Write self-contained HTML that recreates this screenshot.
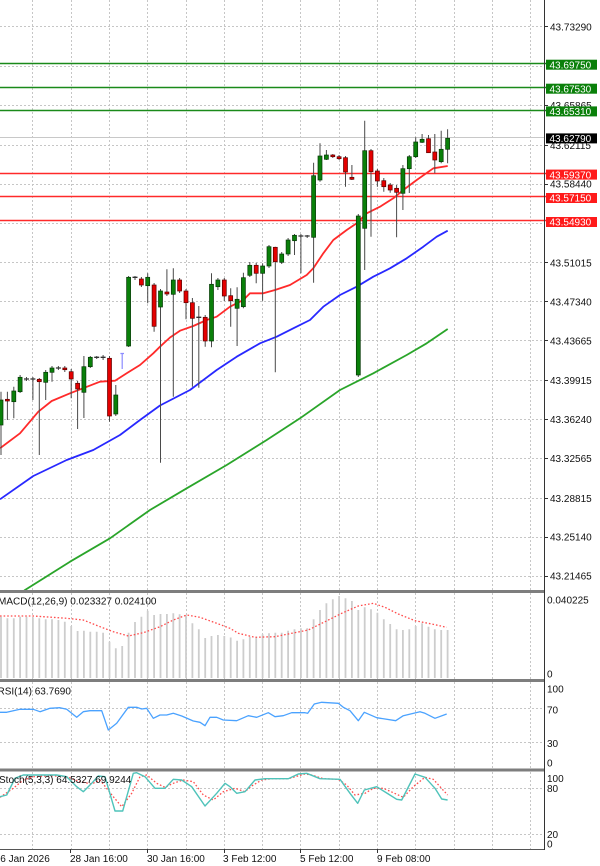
<!DOCTYPE html>
<html><head><meta charset="utf-8"><style>
html,body{margin:0;padding:0;background:#fff;overflow:hidden;width:600px;height:866px}
svg{display:block}
text{font-family:"Liberation Sans",sans-serif;font-size:10px}
</style></head><body>
<svg width="600" height="866" viewBox="0 0 600 866" xmlns="http://www.w3.org/2000/svg">
<rect width="600" height="866" fill="#fff"/>
<!-- grid -->
<g stroke="#c6c6c6" stroke-width="1" stroke-dasharray="2 2" fill="none">
<path d="M0 26.5H544M0 66.5H544M0 105.5H544M0 145.5H544M0 184.5H544M0 223.5H544M0 262.5H544M0 301.5H544M0 340.5H544M0 380.5H544M0 419.5H544M0 458.5H544M0 498.5H544M0 537.5H544M0 576.5H544"/>
<path d="M32.5 0V590M71.5 0V590M109.5 0V590M147.5 0V590M186.5 0V590M224.5 0V590M262.5 0V590M300.5 0V590M339.5 0V590M377.5 0V590M415.5 0V590M454.5 0V590M492.5 0V590M530.5 0V590"/>
<path d="M32.5 593V679M71.5 593V679M109.5 593V679M147.5 593V679M186.5 593V679M224.5 593V679M262.5 593V679M300.5 593V679M339.5 593V679M377.5 593V679M415.5 593V679M454.5 593V679M492.5 593V679M530.5 593V679"/>
<path d="M32.5 682V769M71.5 682V769M109.5 682V769M147.5 682V769M186.5 682V769M224.5 682V769M262.5 682V769M300.5 682V769M339.5 682V769M377.5 682V769M415.5 682V769M454.5 682V769M492.5 682V769M530.5 682V769"/>
<path d="M32.5 772V849M71.5 772V849M109.5 772V849M147.5 772V849M186.5 772V849M224.5 772V849M262.5 772V849M300.5 772V849M339.5 772V849M377.5 772V849M415.5 772V849M454.5 772V849M492.5 772V849M530.5 772V849"/>
<path d="M0 708.5H544M0 742.5H544M0 788.5H544M0 834.5H544"/>
</g>
<!-- bid line -->
<path d="M0 137.5H544" stroke="#c8c8c8" stroke-width="1"/>
<!-- S/R lines -->
<g fill="none">
<path d="M0 63.5H546M0 87.5H546M0 110.5H546" stroke="#1a8a1a" stroke-width="1.4"/>
<path d="M0 173.5H546M0 196.5H546M0 220.5H546" stroke="#ff2a2a" stroke-width="1.6"/>
</g>
<!-- moving averages -->
<defs><clipPath id="mc"><rect x="0" y="0" width="544" height="590"/></clipPath></defs>
<g clip-path="url(#mc)" fill="none" stroke-width="1.8" stroke-linejoin="round">
<polyline stroke="#2aa52a" points="20,594 25,590 70,561.7 110,538.3 150,510 186.7,488.3 226.7,465 266.7,440 300,418.3 340,390 373.3,373.3 406.7,355 426.7,343.3 447.7,329"/>
<polyline stroke="#2828ff" points="0,499.3 33.3,476 66.7,460 93.3,450 120,435 140,420 160,405.5 190,390 216.7,370 236.7,356.7 260,343.3 276.7,336.7 293.3,328.3 310,320 323.3,306.7 340,295 356.7,286.7 373.3,276.7 390,268.3 406.7,258.3 423.3,246.7 436.7,236.7 447.7,230.7"/>
<polyline stroke="#ff2a2a" points="0,448.3 20,433.3 38.3,411.7 51.7,401 70,393.3 100,381.7 115,380.7 126.7,373.3 140,365 153.3,353.3 160,346.7 170,337.5 180,330.7 193.3,326 206.7,320 216.7,316.7 230,306.7 243.3,300 250,293.3 263.3,293.3 275,290 290,285 306.7,275 313.3,268.3 323.3,253.3 333.3,240 346.7,230 356.7,223.3 366.7,213.3 380,206.7 393.3,198.3 403.3,190 416.7,180 433.3,168.3 447.7,166"/>
</g>
<!-- wicks -->
<path fill="none" stroke="#4a4a4a" stroke-width="1" d="M1 391.7V455M7.4 391.7V420M13.8 386.7V418.3M20.1 375V393M26.5 377V381M32.9 377V400M39.3 378V455M45.7 370V400M52 366V381.7M58.4 366V370M64.8 366V372M71.2 369V398.3M77.6 381V429M83.9 356V418M90.3 356V368M96.7 356V359M103.1 355V360M109.5 356V421.7M115.8 385V416M128.6 276V347M135 276V280M141.4 277V287M147.7 273.3V303.3M154.1 283V331.7M160.5 289V462.7M166.9 269.3V296M173.3 268.3V396.7M179.6 278V293M186 289V319.3M192.4 298V386.7M198.8 306V387.7M205.2 315V346.7M211.5 273.3V347.3M217.9 278V290M224.3 278V301M230.7 288.3V326.7M237.1 287.3V346M243.4 272.7V308.3M249.8 262V277M256.2 262.7V283.3M262.6 263.3V300.7M269 245V268M275.3 246.7V372.3M281.7 252V264M288.1 238V256M294.5 234V255M300.9 234V273.3M307.2 235V238M313.6 162.7V282.7M320 143.3V181.7M326.4 150V160M332.8 154V158M339.1 155V160M345.5 156V186.7M351.9 165V180M358.3 214V377M364.7 120.7V270M371 149V236.7M377.4 169V186.7M383.8 178V191.7M390.2 183V192.7M396.6 185V237.3M402.9 165V210M409.3 155V193M415.7 137.3V158M422.1 134V143M428.5 135V153M434.8 134V173.3M441.2 130.7V163.3M447.6 129.3V163.3"/>
<!-- dojis -->
<path fill="none" stroke="#333" stroke-width="1.3" d="M24 379H29M30.4 379H35.4M55.9 368H60.9M94.2 357.3H99.2M100.6 357.3H105.6M132.5 277.3H137.5M196.3 317.3H201.3M298.4 236H303.4M304.7 236H309.7"/>
<!-- marker -->
<path fill="none" stroke="#8c8cff" stroke-width="1.2" d="M120.4 353.5H124M122.2 353.5V369"/>
<!-- green bodies -->
<g fill="#0a800a" stroke="#053805" stroke-width="0.7">
<rect x="-1" y="400" width="4" height="25"/>
<rect x="11.8" y="391" width="4" height="10.7"/>
<rect x="18.1" y="377.3" width="4" height="14.4"/>
<rect x="43.7" y="372.3" width="4" height="10"/>
<rect x="50" y="368" width="4" height="4.3"/>
<rect x="81.9" y="366.7" width="4" height="25.6"/>
<rect x="88.3" y="357.3" width="4" height="9.4"/>
<rect x="113.8" y="395" width="4" height="19"/>
<rect x="126.6" y="277.3" width="4" height="68.7"/>
<rect x="145.7" y="277.3" width="4" height="8.4"/>
<rect x="158.5" y="291" width="4" height="16"/>
<rect x="171.3" y="280" width="4" height="14.3"/>
<rect x="209.5" y="284.3" width="4" height="56.7"/>
<rect x="215.9" y="280" width="4" height="6.7"/>
<rect x="235.1" y="299.3" width="4" height="9"/>
<rect x="241.4" y="277.7" width="4" height="29"/>
<rect x="247.8" y="265.3" width="4" height="10"/>
<rect x="260.6" y="266" width="4" height="7.3"/>
<rect x="267" y="246.7" width="4" height="19.3"/>
<rect x="279.7" y="254" width="4" height="8.3"/>
<rect x="286.1" y="240" width="4" height="14"/>
<rect x="292.5" y="235.3" width="4" height="5.4"/>
<rect x="311.6" y="175.7" width="4" height="61.6"/>
<rect x="318" y="156" width="4" height="24"/>
<rect x="324.4" y="155" width="4" height="4.3"/>
<rect x="356.3" y="216" width="4" height="159"/>
<rect x="362.7" y="150.7" width="4" height="77.6"/>
<rect x="400.9" y="168.7" width="4" height="24.6"/>
<rect x="407.3" y="156.7" width="4" height="12"/>
<rect x="413.7" y="142" width="4" height="14.7"/>
<rect x="420.1" y="139.3" width="4" height="3"/>
<rect x="439.2" y="149.3" width="4" height="12.4"/>
<rect x="445.6" y="138.3" width="4" height="11"/>
</g>
<!-- red bodies -->
<g fill="#e40000" stroke="#5a0000" stroke-width="0.7">
<rect x="5.4" y="399.3" width="4" height="1.7"/>
<rect x="37.3" y="379.3" width="4" height="2.4"/>
<rect x="62.8" y="368" width="4" height="1.7"/>
<rect x="69.2" y="371.7" width="4" height="7.3"/>
<rect x="75.6" y="383.3" width="4" height="5.7"/>
<rect x="107.5" y="358.3" width="4" height="57.7"/>
<rect x="139.4" y="279" width="4" height="6"/>
<rect x="152.1" y="285" width="4" height="41.3"/>
<rect x="164.9" y="292" width="4" height="2"/>
<rect x="177.6" y="280" width="4" height="11"/>
<rect x="184" y="291" width="4" height="11.7"/>
<rect x="190.4" y="302.7" width="4" height="15.6"/>
<rect x="203.2" y="317.3" width="4" height="23.7"/>
<rect x="222.3" y="280" width="4" height="16"/>
<rect x="228.7" y="295.7" width="4" height="5"/>
<rect x="254.2" y="265.3" width="4" height="8"/>
<rect x="273.3" y="247.3" width="4" height="14.4"/>
<rect x="330.8" y="155" width="4" height="1.7"/>
<rect x="337.1" y="156.7" width="4" height="2"/>
<rect x="343.5" y="157.7" width="4" height="14.3"/>
<rect x="349.9" y="177.3" width="4" height="2"/>
<rect x="369" y="150.7" width="4" height="21"/>
<rect x="375.4" y="171" width="4" height="10"/>
<rect x="381.8" y="180.7" width="4" height="6"/>
<rect x="388.2" y="185" width="4" height="5"/>
<rect x="394.6" y="188.3" width="4" height="4"/>
<rect x="426.5" y="138.7" width="4" height="14"/>
<rect x="432.8" y="152" width="4" height="8"/>
</g>
<!-- MACD histogram -->
<path fill="none" stroke="#cdcdcd" stroke-width="1.8" d="M1 678V616.7M7.4 678V618.3M13.8 678V618.3M20.1 678V616.7M26.5 678V616.7M32.9 678V617.3M39.3 678V618.3M45.7 678V619.3M52 678V619.3M58.4 678V620M64.8 678V621.7M71.2 678V626M77.6 678V631M83.9 678V630.7M90.3 678V631.7M96.7 678V631.7M103.1 678V632.7M109.5 678V641.7M115.8 678V648.3M122.2 678V646M128.6 678V632.7M135 678V622M141.4 678V616.7M147.7 678V610.7M154.1 678V615M160.5 678V614M166.9 678V614M173.3 678V613.3M179.6 678V614.3M186 678V615.3M192.4 678V623.3M198.8 678V629.3M205.2 678V638M211.5 678V636M217.9 678V635M224.3 678V636M230.7 678V637.5M237.1 678V640.7M243.4 678V639.3M249.8 678V636.7M256.2 678V636.7M262.6 678V634.3M269 678V633.3M275.3 678V632.7M281.7 678V632.7M288.1 678V630.7M294.5 678V629.3M300.9 678V628.3M307.2 678V628.3M313.6 678V619.3M320 678V610M326.4 678V603.3M332.8 678V599.3M339.1 678V596M345.5 678V598.3M351.9 678V601M358.3 678V610M364.7 678V607.3M371 678V609.3M377.4 678V612.7M383.8 678V619.3M390.2 678V624M396.6 678V629.3M402.9 678V630M409.3 678V629.3M415.7 678V626M422.1 678V623.3M428.5 678V626.7M434.8 678V629.3M441.2 678V630M447.6 678V630"/>
<polyline fill="none" stroke="#ff4c4c" stroke-width="1.3" stroke-dasharray="1.6 2" points="0,616 33.3,616 66.7,618.3 83.3,620 100,626.7 113.3,631.7 128.3,636 143.3,632.7 160,626.7 173.3,620 186.7,615 200,617.3 216.7,623.3 230,628.3 238.3,633.3 255,637.3 275,636.7 291.7,633.3 308.3,630 325,621.7 341.7,613.3 358.3,606 373.3,603.3 385,607.3 398.3,614 415,620.7 431.7,624 446.7,627.3"/>
<!-- RSI -->
<polyline fill="none" stroke="#4aa2ff" stroke-width="1.3" stroke-linejoin="round" points="0,712.3 6.7,712.3 20,709.3 33.3,709.3 40,711.7 50,708.3 60,707.7 66.7,709.3 76.7,717.3 83.3,711.7 90,710.7 101.7,710.7 108.3,730 116.7,723.3 128.3,707.3 136.7,707.3 141.7,709 146.7,708.3 153.3,718.3 160,715 166.7,715 173.3,713.3 181.7,716 193.3,721 200,722.3 205,725.7 210,717.3 216.7,717.3 223.3,720 236.7,720.7 248.3,715.7 256.7,717.3 268.3,712.7 275,716.7 283.3,715.7 291.7,712.7 305,712.7 307.7,713.3 314.3,704 321.7,702.3 338.3,703.3 343.3,707.3 350,710.7 358.3,720.7 364.3,712.3 376.7,717.7 385,719 395.7,720.7 403.3,715.7 420,711.7 425,713.3 435,718.3 446.7,714"/>
<!-- Stoch -->
<polyline fill="none" stroke="#ff4c4c" stroke-width="1.3" stroke-dasharray="1.6 2" points="0,797.3 13.3,788.3 23.3,780 33.3,776.7 50,775.7 66.7,776.7 80,781.7 91.7,784 100,780 113.3,796.7 121.7,806.7 131.7,793.3 140,776.7 146.7,775 156.7,783.3 165,787.3 173.3,783.3 183.3,780 193.3,781.7 203.3,795 213.3,800 223.3,791.7 235,788.3 245,791.7 251.7,786 261.7,780 271.7,778.7 288.3,778.7 305,774 311.7,775 323.3,778.7 338.3,779.3 346.7,785 355,795 365,793.3 373.3,788.3 383.3,788.3 393.3,792.7 403.3,797.3 413.3,786.7 425,777.3 433.3,779.3 447.6,795"/>
<polyline fill="none" stroke="#4fc3ba" stroke-width="1.4" stroke-linejoin="round" points="0,796.7 6.7,795 11.7,785 15,778.3 23.3,775 56.7,775 66.7,776.7 76.7,786.7 83.3,791.7 91.7,783.3 98.3,776 105,776.7 115,811 122.7,811 133.3,773.3 136.7,772.7 145,776.7 155,788.3 165,788.3 173.3,779.3 181.7,780 191.7,786.7 205,806 216.7,793.3 225,783.3 230,786.7 236.7,793.3 245,791.7 255,780 265,778.7 288.3,778.7 298.3,774 306.7,773.3 320,778.7 340,779.3 350,793.3 357.7,803.3 364.3,790 376.7,786.7 388.3,794 396.7,799.3 401.7,800 415,774 425,777.3 435,788.3 441.7,799 447.6,800"/>
<!-- separators -->
<rect x="0" y="590" width="545" height="3" fill="#7e7e7e"/>
<rect x="0" y="679" width="545" height="3" fill="#7e7e7e"/>
<rect x="0" y="768.5" width="545" height="3" fill="#7e7e7e"/>
<path d="M0 849.5H545" stroke="#555" stroke-width="1"/>
<path d="M544.5 0V850" stroke="#333" stroke-width="1"/>
<!-- right axis ticks -->
<path stroke="#333" stroke-width="1" d="M544 26.5H548M544 105.5H548M544 145.5H548M544 184.5H548M544 262.5H548M544 301.5H548M544 340.5H548M544 380.5H548M544 419.5H548M544 458.5H548M544 498.5H548M544 537.5H548M544 576.5H548"/>
<!-- time ticks -->
<path stroke="#333" stroke-width="1" d="M70.5 849V853M147.5 849V853M224.5 849V853M300.5 849V853M377.5 849V853"/>
<!-- price labels -->
<g fill="#111">
<text x="550" y="30.3">43.73290</text>
<text x="550" y="108.8">43.65865</text>
<text x="550" y="149.2">43.62115</text>
<text x="550" y="187.5">43.58440</text>
<text x="550" y="266.4">43.51015</text>
<text x="550" y="305.3">43.47340</text>
<text x="550" y="344.3">43.43665</text>
<text x="550" y="384">43.39915</text>
<text x="550" y="423">43.36240</text>
<text x="550" y="462">43.32565</text>
<text x="550" y="501.8">43.28815</text>
<text x="550" y="540.7">43.25140</text>
<text x="550" y="579.7">43.21465</text>
</g>
<!-- boxes -->
<rect x="546" y="59.7" width="51" height="10" fill="#0a800a"/>
<rect x="546" y="83.7" width="51" height="10" fill="#0a800a"/>
<rect x="546" y="106.4" width="51" height="10" fill="#0a800a"/>
<rect x="546" y="133.4" width="51" height="10" fill="#000"/>
<rect x="546" y="169.6" width="51" height="10" fill="#ff1a1a"/>
<rect x="546" y="193" width="51" height="10" fill="#ff1a1a"/>
<rect x="546" y="217" width="51" height="10" fill="#ff1a1a"/>
<g fill="#fff">
<text x="549.5" y="68.4">43.69750</text>
<text x="549.5" y="92.4">43.67530</text>
<text x="549.5" y="115.1">43.65310</text>
<text x="549.5" y="142.1">43.62790</text>
<text x="549.5" y="178.3">43.59370</text>
<text x="549.5" y="201.7">43.57150</text>
<text x="549.5" y="225.7">43.54930</text>
</g>
<!-- indicator labels -->
<g fill="#111">
<text x="547" y="603.6">0.040225</text>
<text x="547" y="677.6">0</text>
<text x="547" y="692.6">100</text>
<text x="547" y="713.6">70</text>
<text x="547" y="746.9">30</text>
<text x="547" y="766.3">0</text>
<text x="547" y="781.9">100</text>
<text x="547" y="791.9">80</text>
<text x="547" y="837.9">20</text>
<text x="547" y="847.6">0</text>
<text x="-2" y="604.6">MACD(12,26,9) 0.023327 0.024100</text>
<text x="-2.5" y="694.6">RSI(14) 63.7690</text>
<text x="-1" y="782.9">Stoch(5,3,3) 64.5327 69.9244</text>
</g>
<!-- time labels -->
<g fill="#111">
<text x="-5.3" y="861.8">26 Jan 2026</text>
<text x="70" y="861.8">28 Jan 16:00</text>
<text x="147" y="861.8">30 Jan 16:00</text>
<text x="223" y="861.8">3 Feb 12:00</text>
<text x="300" y="861.8">5 Feb 12:00</text>
<text x="377" y="861.8">9 Feb 08:00</text>
</g>
</svg>
</body></html>
